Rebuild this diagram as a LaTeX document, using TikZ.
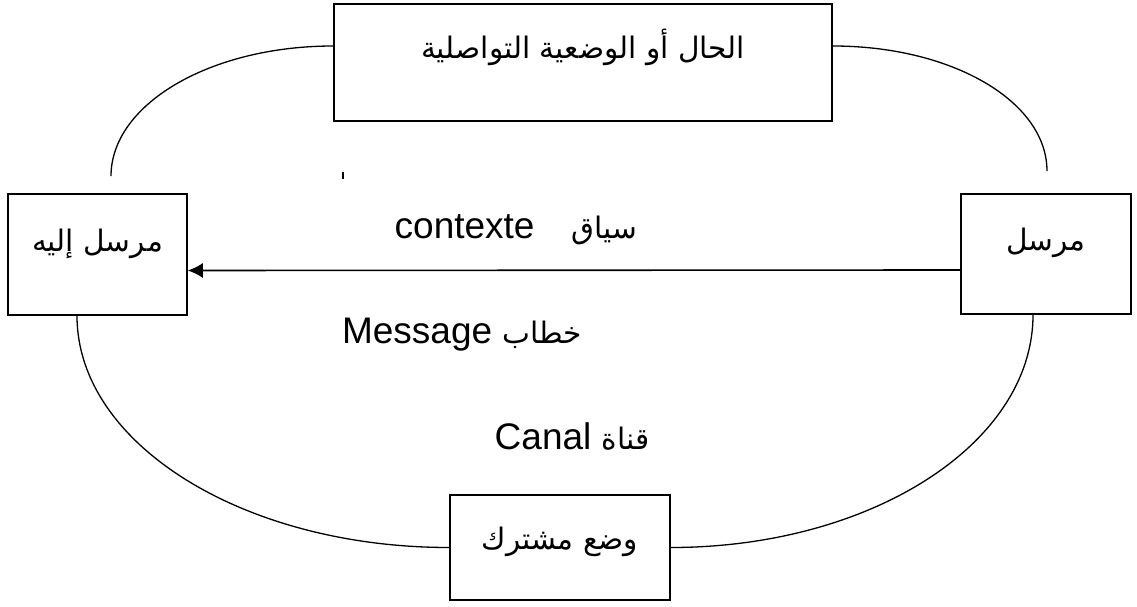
\documentclass[tikz,border=0pt]{standalone}
\usepackage{fontspec}
\setmainfont{Liberation Sans}
\newfontfamily\arabicfont[Script=Arabic,Scale=0.8]{DejaVu Sans}
\TeXXeTstate=1
\usetikzlibrary{arrows.meta}

\begin{document}
\begin{tikzpicture}[x=1pt, y=1pt, >={Latex[length=15pt,width=15pt]},
font=\fontsize{37}{44}\selectfont,
box/.style={draw, line width=1.6pt, inner sep=0pt, text height=24pt, text depth=31pt},
link/.style={line width=1.3pt}]
  \useasboundingbox (0,0) rectangle (1137,606);
  \node[box, minimum width=498pt, minimum height=117pt] (CTX) at (583,543.5) {\arabicfont\beginR الحال أو الوضعية التواصلية\endR};
  \node[box, minimum width=179pt, minimum height=121pt] (RECV) at (97.5,351.5) {\arabicfont\beginR مرسل إليه\endR};
  \node[box, minimum width=170pt, minimum height=120pt] (SEND) at (1046,352) {\arabicfont\beginR مرسل\endR};
  \node[box, minimum width=220pt, minimum height=105pt, text depth=20pt] (COMMON) at (560,58.5) {\arabicfont\beginR وضع مشترك\endR};
  \node (CTXLBL) at (516,376) {\beginR{\arabicfont سياق}\quad\beginL contexte\endL\endR};
  \node (MSGLBL) at (462,271) {\beginR{\arabicfont خطاب} \beginL Message\endL\endR};
  \node (CHANLBL) at (572,169) {\beginR{\arabicfont قناة} \beginL Canal\endL\endR};
  \draw[->, line width=1.6pt] ([yshift=-16pt]SEND.west) -- ([yshift=-16pt]RECV.east);
  \draw[line width=1.6pt] (343,427) -- (343,434);
  \draw[link] ([yshift=16.5pt]CTX.west) .. controls +(-123,0) and +(0,72) .. ([xshift=13.5pt,yshift=17pt]RECV.north);
  \draw[link] ([yshift=16.5pt]CTX.east) .. controls +(119,0) and +(0,70) .. ([xshift=1pt,yshift=22pt]SEND.north);
  \draw[link] ([xshift=-20.5pt]RECV.south) .. controls +(0,-128) and +(-206,0) .. (COMMON.west);
  \draw[link] ([xshift=-13pt]SEND.south) .. controls +(0,-129) and +(200,0) .. (COMMON.east);
\end{tikzpicture}
\end{document}
